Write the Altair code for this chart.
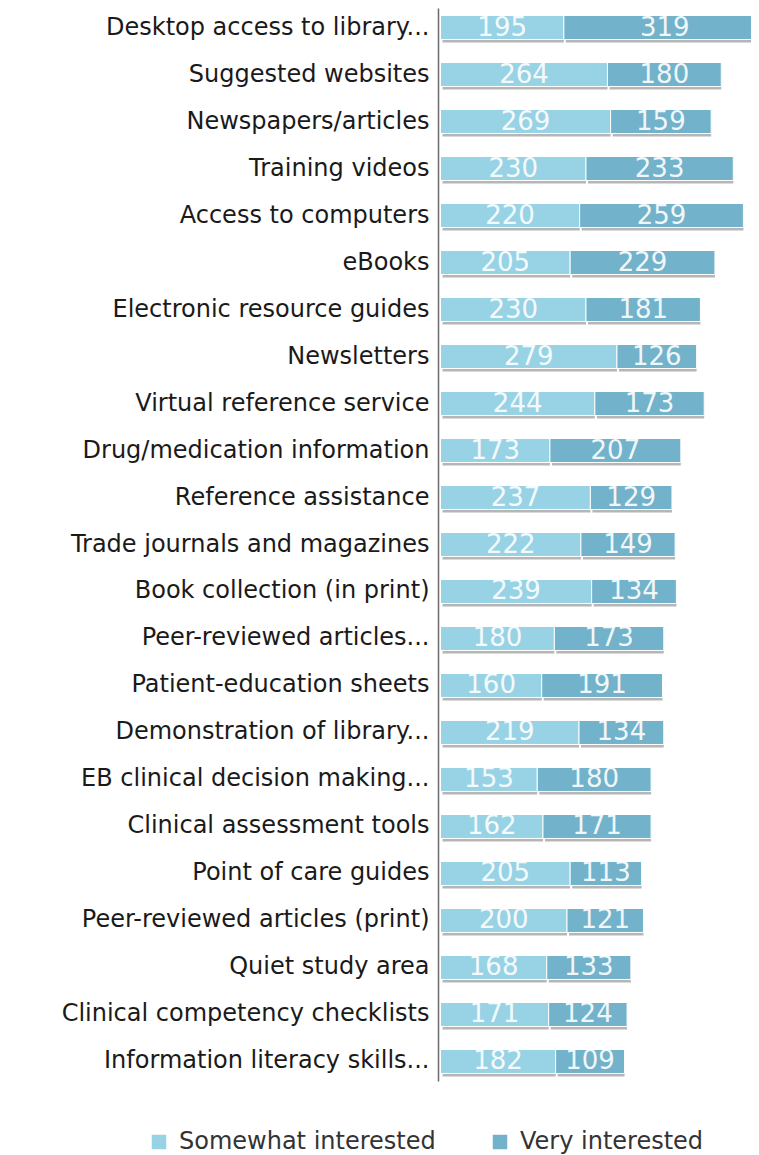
import altair as alt
import pandas as pd

categories = [
    "Desktop access to library...",
    "Suggested websites",
    "Newspapers/articles",
    "Training videos",
    "Access to computers ",
    "eBooks",
    "Electronic resource guides ",
    "Newsletters",
    "Virtual reference service",
    "Drug/medication information",
    "Reference assistance",
    "Trade journals and magazines",
    "Book collection (in print)",
    "Peer-reviewed articles...",
    "Patient-education sheets",
    "Demonstration of library...",
    "EB clinical decision making...",
    "Clinical assessment tools",
    "Point of care guides",
    "Peer-reviewed articles (print)",
    "Quiet study area",
    "Clinical competency checklists",
    "Information literacy skills...",
]
somewhat = [195, 264, 269, 230, 220, 205, 230, 279, 244, 173, 237, 222, 239,
            180, 160, 219, 153, 162, 205, 200, 168, 171, 182]
very = [319, 180, 159, 233, 259, 229, 181, 126, 173, 207, 129, 149, 134,
        173, 191, 134, 180, 171, 113, 121, 133, 124, 109]
series = ["Somewhat interested", "Very interested"]
colors = ["#98D3E5", "#72B2CA"]

rows = []
for c, s, v in zip(categories, somewhat, very):
    rows.append({"category": c, "series": series[0], "value": s, "order": 0})
    rows.append({"category": c, "series": series[1], "value": v, "order": 1})
df = pd.DataFrame(rows)

FONT = "DejaVu Sans"

yenc = alt.Y(
    "category:N",
    sort=categories,
    title=None,
    scale=alt.Scale(paddingInner=0.49, paddingOuter=0.16),
    axis=alt.Axis(
        ticks=False,
        labelFont=FONT,
        labelFontSize=24,
        labelColor="#1a1a1a",
        labelPadding=9,
        labelLimit=430,
        domainColor="#6b6b6b",
        domainWidth=1.5,
        minExtent=430,
        maxExtent=430,
        grid=False,
    ),
)
xscale = alt.Scale(domain=[-4, 491], nice=False, zero=False)

base = alt.Chart(df).transform_stack(
    stack="value",
    groupby=["category"],
    sort=[alt.SortField("order")],
    as_=["x0", "x1"],
).transform_calculate(mid="(datum.x0 + datum.x1) / 2")

shadow = base.mark_bar(
    color="#7a7a7a", opacity=0.55, yOffset=3, xOffset=2, clip=True
).encode(
    y=yenc,
    x=alt.X("x0:Q", scale=xscale, axis=None),
    x2="x1:Q",
)

bars = base.mark_bar(stroke="white", strokeWidth=1, clip=True).encode(
    y=yenc,
    x=alt.X("x0:Q", scale=xscale, axis=None),
    x2="x1:Q",
    color=alt.Color(
        "series:N",
        scale=alt.Scale(domain=series, range=colors),
        legend=alt.Legend(
            title=None,
            orient="none",
            legendX=-291,
            legendY=1122,
            direction="horizontal",
            symbolType="square",
            symbolSize=210,
            symbolStrokeWidth=0,
            labelFont=FONT,
            labelFontSize=24,
            labelColor="#333333",
            labelLimit=400,
            columnPadding=52,
            labelOffset=8,
        ),
    ),
)

labels = base.mark_text(
    color="white", font="DejaVu Sans", fontSize=26, opacity=0.9, clip=True
).encode(
    y=yenc,
    x=alt.X("mid:Q", scale=xscale, axis=None),
    text="value:Q",
)

chart = (
    alt.layer(shadow, bars, labels)
    .properties(
        width=313,
        height=1073,
        padding={"left": 0, "top": 0, "right": 0, "bottom": 0},
    )
    .configure_view(stroke=None)
)

chart.save("out.html", embed_options={"renderer": "svg", "actions": False})
